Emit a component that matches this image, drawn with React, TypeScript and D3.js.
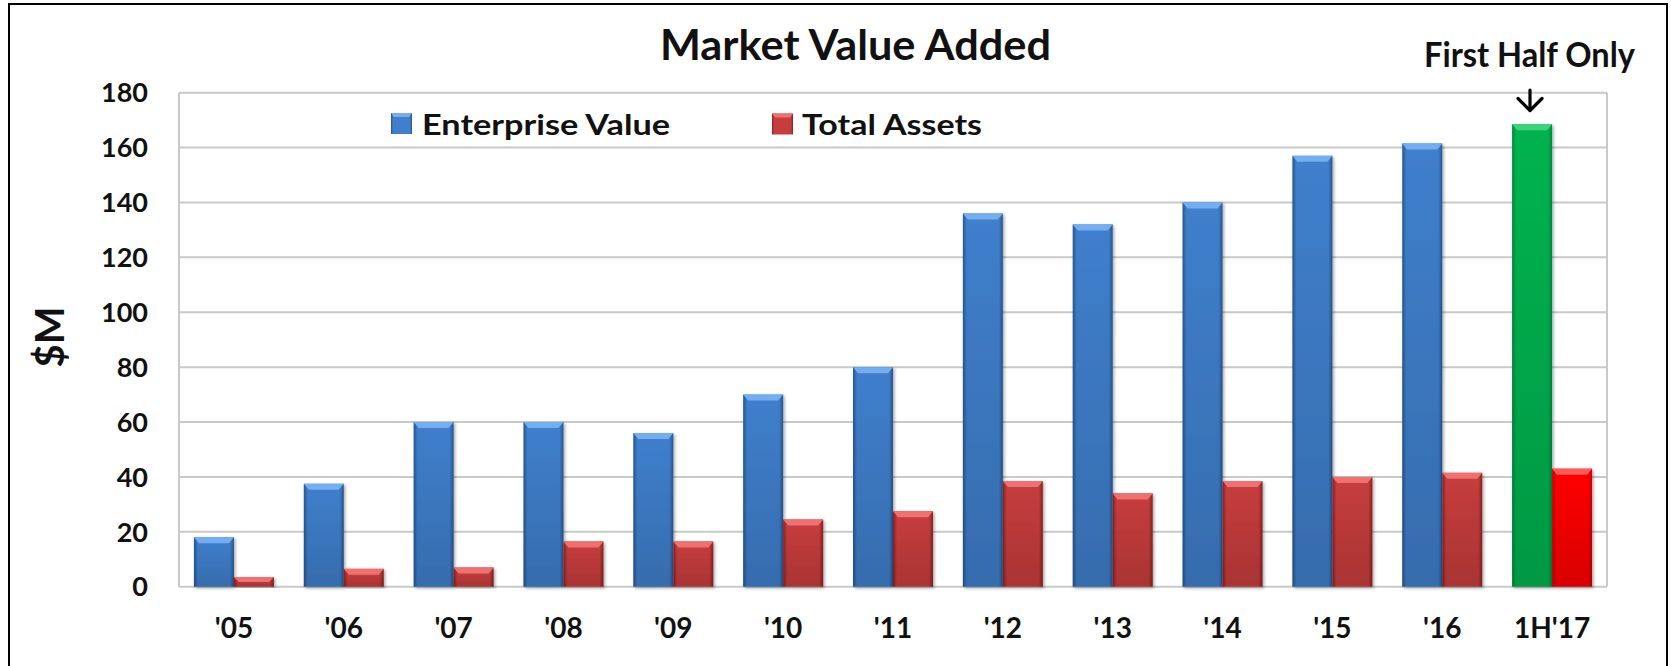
import React from "react";
import { scaleBand, scaleLinear } from "d3";

const categories = ["'05", "'06", "'07", "'08", "'09", "'10", "'11", "'12", "'13", "'14", "'15", "'16", "1H'17"];
const enterpriseValue = [18, 37.5, 60, 60, 56, 70, 80, 136, 132, 140, 157, 161.5, 168.5];
const totalAssets = [3.5, 6.5, 7, 16.5, 16.5, 24.5, 27.5, 38.5, 34, 38.5, 40, 41.5, 43];
const yTicks = [0, 20, 40, 60, 80, 100, 120, 140, 160, 180];
const seriesNames = ["Enterprise Value", "Total Assets"];

const FONT = "Lato, 'Open Sans', sans-serif";

// colour sets: base, edge, bevel
const palettes: Record<string, [string, string, string]> = {
	blue: ["#3f7fcc", "#26558f", "#74aef0"],
	red: ["#c73d3d", "#8a2020", "#f07070"],
	green: ["#00b34f", "#00883c", "#3ad47c"],
	bright: ["#ff0000", "#c80000", "#ff5a5a"],
};

const Bar = ({ x, y, w, h, p }: { x: number; y: number; w: number; h: number; p: string }) => {
	const bev = Math.min(6, h / 2);
	return (
		<g filter="url(#shadow)">
			<rect x={x} y={y} width={w} height={h} fill={`url(#h-${p})`} />
			<rect x={x} y={y} width={w} height={h} fill="url(#vshade)" />
			<polygon
				points={`${x},${y} ${x + w},${y} ${x + w - 5},${y + bev} ${x + 5},${y + bev}`}
				fill={palettes[p][2]}
			/>
		</g>
	);
};

const App = () => {
	const width = 1671;
	const height = 666;
	const left = 179;
	const right = 1607;
	const top = 92.7;
	const bottom = 586.7;

	const x0 = scaleBand<string>().domain(categories).range([left, right]).paddingInner(0.272).paddingOuter(0.136);
	const x1 = scaleBand<string>().domain(seriesNames).range([0, x0.bandwidth()]);
	const y = scaleLinear().domain([0, 180]).range([bottom, top]);

	const last = categories.length - 1;

	return (
		<svg width={width} height={height} style={{ position: "absolute", left: 0, top: 0 }}>
			<defs>
				{Object.entries(palettes).map(([k, c]) => (
					<linearGradient key={k} id={`h-${k}`} x1="0" x2="1" y1="0" y2="0">
						<stop offset="0%" stopColor={c[1]} />
						<stop offset="10%" stopColor={c[0]} />
						<stop offset="50%" stopColor={c[0]} />
						<stop offset="90%" stopColor={c[0]} />
						<stop offset="100%" stopColor={c[1]} />
					</linearGradient>
				))}
				<linearGradient id="vshade" x1="0" x2="0" y1="0" y2="1">
					<stop offset="0%" stopColor="#000" stopOpacity={0} />
					<stop offset="100%" stopColor="#000" stopOpacity={0.15} />
				</linearGradient>
				<filter id="shadow" x="-20%" y="-5%" width="140%" height="115%">
					<feDropShadow dx="1.5" dy="1.5" stdDeviation="1.5" floodOpacity="0.35" />
				</filter>
			</defs>

			<rect x={0} y={0} width={width} height={height} fill="#fff" />
			<rect x={9} y={4} width={1658} height={680} fill="none" stroke="#000" strokeWidth={2} />

			{/* gridlines */}
			{yTicks.map((t) => (
				<line key={t} x1={left} x2={right} y1={y(t)} y2={y(t)} stroke="#c9c9c9" strokeWidth={2} />
			))}
			<line x1={left} x2={left} y1={top} y2={bottom} stroke="#c9c9c9" strokeWidth={2} />
			<line x1={right} x2={right} y1={top} y2={bottom} stroke="#c9c9c9" strokeWidth={2} />

			{/* bars */}
			{categories.map((c, i) => {
				const bx = x0(c)!;
				const evP = i === last ? "green" : "blue";
				const taP = i === last ? "bright" : "red";
				return (
					<g key={c}>
						<Bar
							x={bx + x1(seriesNames[0])!}
							y={y(enterpriseValue[i])}
							w={x1.bandwidth()}
							h={bottom - y(enterpriseValue[i])}
							p={evP}
						/>
						<Bar
							x={bx + x1(seriesNames[1])!}
							y={y(totalAssets[i])}
							w={x1.bandwidth()}
							h={bottom - y(totalAssets[i])}
							p={taP}
						/>
					</g>
				);
			})}

			{/* y tick labels */}
			{yTicks.map((t) => (
				<text key={t} x={148} y={y(t)} dy="0.36em" textAnchor="end" fontFamily={FONT} fontWeight="bold" fontSize={27} fill="#111">
					{t}
				</text>
			))}

			{/* x labels */}
			{categories.map((c) => (
				<text key={c} x={x0(c)! + x0.bandwidth() / 2} y={638} textAnchor="middle" fontFamily={FONT} fontWeight="bold" fontSize={28} fill="#111">
					{c}
				</text>
			))}

			{/* y title */}
			<text transform="translate(64,337) rotate(-90)" textAnchor="middle" fontFamily={FONT} fontWeight="bold" fontSize={40} fill="#111">
				$M
			</text>

			{/* title */}
			<text x={660} y={60} textLength={391} lengthAdjust="spacingAndGlyphs" fontFamily={FONT} fontWeight="bold" fontSize={42} fill="#111">
				Market Value Added
			</text>

			{/* legend */}
			<rect x={391} y={113} width={21} height={21} fill="url(#h-blue)" />
			<polygon points="391,113 412,113 409,117 394,117" fill={palettes.blue[2]} />
			<text x={422} y={134.5} textLength={248} lengthAdjust="spacingAndGlyphs" fontFamily={FONT} fontWeight="bold" fontSize={29} fill="#111">
				{seriesNames[0]}
			</text>
			<rect x={772} y={113.5} width={21} height={21} fill="url(#h-red)" />
			<polygon points="772,113.5 793,113.5 790,117.5 775,117.5" fill={palettes.red[2]} />
			<text x={802} y={135} textLength={180} lengthAdjust="spacingAndGlyphs" fontFamily={FONT} fontWeight="bold" fontSize={29} fill="#111">
				{seriesNames[1]}
			</text>

			{/* annotation */}
			<text x={1424} y={66.5} textLength={211} lengthAdjust="spacingAndGlyphs" fontFamily={FONT} fontWeight="bold" fontSize={34} fill="#111">
				First Half Only
			</text>
			<g stroke="#000" strokeWidth={3.2} fill="none" strokeLinecap="round" strokeLinejoin="round">
				<line x1={1530} x2={1530} y1={90} y2={110} />
				<polyline points="1518,98.5 1530,110.5 1542,98.5" />
			</g>
		</svg>
	);
};

export default App;
